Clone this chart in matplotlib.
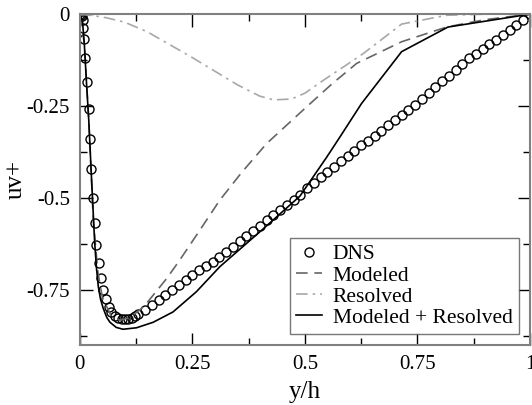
import matplotlib
matplotlib.use("Agg")
import matplotlib.pyplot as plt
from matplotlib.ticker import MultipleLocator, FixedLocator

plt.rcParams['font.family'] = ['Liberation Serif', 'DejaVu Serif']

# DNS reference profile
dns_y = [0.0, 0.002, 0.004, 0.006, 0.008, 0.0096, 0.0118, 0.0149, 0.020, 0.022,
         0.025, 0.029, 0.033, 0.037, 0.042, 0.047, 0.052, 0.058, 0.064, 0.070,
         0.078, 0.085, 0.093, 0.100, 0.107, 0.115, 0.122,
         0.130, 0.145, 0.160, 0.175, 0.190, 0.205, 0.220, 0.235, 0.250, 0.265,
         0.280, 0.295, 0.310, 0.325, 0.340, 0.355, 0.370, 0.385, 0.400, 0.415,
         0.430, 0.445, 0.460, 0.475, 0.490, 0.505, 0.520, 0.535, 0.550, 0.565,
         0.580, 0.595, 0.610, 0.625, 0.640, 0.655, 0.670, 0.685, 0.700, 0.715,
         0.730, 0.745, 0.760, 0.775, 0.790, 0.805, 0.820, 0.835, 0.850, 0.865,
         0.880, 0.895, 0.910, 0.925, 0.940, 0.955, 0.970, 0.985, 1.000]
dns_uv = [0.0, -0.001, -0.004, -0.016, -0.038, -0.068, -0.119, -0.185, -0.258, -0.340,
          -0.421, -0.500, -0.567, -0.627, -0.677, -0.718, -0.750, -0.775, -0.796, -0.809,
          -0.821, -0.827, -0.830, -0.830, -0.829, -0.826, -0.822,
          -0.815, -0.804, -0.791, -0.778, -0.764, -0.751, -0.737, -0.723, -0.709, -0.696,
          -0.685, -0.673, -0.660, -0.647, -0.633, -0.618, -0.604, -0.590, -0.575, -0.561,
          -0.546, -0.532, -0.519, -0.505, -0.491, -0.474, -0.458, -0.444, -0.430, -0.415,
          -0.400, -0.386, -0.371, -0.357, -0.344, -0.331, -0.317, -0.302, -0.289, -0.275,
          -0.262, -0.248, -0.232, -0.215, -0.199, -0.183, -0.167, -0.151, -0.135, -0.120,
          -0.107, -0.095, -0.082, -0.069, -0.057, -0.044, -0.030, -0.015, 0.0]

# LES modeled part
mod_y = [0.0, 0.01, 0.02, 0.03, 0.04, 0.05, 0.07, 0.09, 0.11, 0.133, 0.148, 0.193,
         0.222, 0.267, 0.311, 0.36, 0.415, 0.504, 0.56, 0.615, 0.715, 0.815, 0.9, 1.0]
mod_uv = [0.0, -0.08, -0.29, -0.56, -0.70, -0.77, -0.822, -0.833, -0.825, -0.805, -0.787, -0.719,
          -0.669, -0.587, -0.506, -0.43, -0.352, -0.252, -0.19, -0.134, -0.075, -0.035, -0.015, 0.0]

# LES resolved part
res_y = [0.0, 0.03, 0.06, 0.10, 0.15, 0.20, 0.25, 0.30, 0.35, 0.40, 0.43, 0.47, 0.50,
         0.541, 0.59, 0.63, 0.715, 0.815, 0.9, 1.0]
res_uv = [0.0, -0.004, -0.010, -0.022, -0.048, -0.083, -0.118, -0.155, -0.192, -0.223, -0.233,
          -0.231, -0.215, -0.180, -0.140, -0.107, -0.027, -0.003, 0.0, 0.0]

# modeled + resolved
tot_y = [0.0, 0.006, 0.01, 0.015, 0.02, 0.025, 0.029, 0.033, 0.037, 0.041, 0.046, 0.052,
         0.060, 0.067, 0.081, 0.096, 0.126, 0.163, 0.207, 0.259, 0.311, 0.40, 0.489,
         0.548, 0.578, 0.626, 0.715, 0.818, 1.0]
tot_uv = [0.0, -0.02, -0.08, -0.19, -0.29, -0.42, -0.52, -0.62, -0.69, -0.74, -0.775, -0.80,
          -0.825, -0.838, -0.852, -0.857, -0.853, -0.838, -0.810, -0.755, -0.687, -0.592, -0.495,
          -0.39, -0.334, -0.243, -0.102, -0.035, 0.0]

xticks = [0, 0.25, 0.5, 0.75, 1]
xlabels = ['0', '0.25', '0.5', '0.75', '1']
yticks = [0, -0.25, -0.5, -0.75]
ylabels = ['0', '-0.25', '-0.5', '-0.75']

fig = plt.figure(figsize=(5.32, 4.05), dpi=100)
ax = fig.add_axes([0.150, 0.148, 0.846, 0.817])

ax.plot(dns_y, dns_uv, 'o', mfc='none', mec='black', ms=6.5, mew=1.0, label='DNS')
ax.plot(mod_y, mod_uv, color='#666666', ls=(0, (7, 4)), lw=1.2, label='Modeled')
ax.plot(res_y, res_uv, color='#a8a8a8', ls=(0, (7, 3, 1.5, 3)), lw=1.2, label='Resolved')
ax.plot(tot_y, tot_uv, color='black', lw=1.2, label='Modeled + Resolved')

ax.set_xlim(0, 1)
ax.set_ylim(-0.9, 0)
ax.set_xticks(xticks)
ax.set_xticklabels(xlabels)
ax.set_yticks(yticks)
ax.set_yticklabels(ylabels)
ax.xaxis.set_minor_locator(MultipleLocator(0.125))
ax.yaxis.set_minor_locator(FixedLocator([-0.125, -0.375, -0.625, -0.875]))
ax.tick_params(which='both', direction='in', top=True, right=True, labelsize=15, pad=7)
ax.tick_params(which='major', length=9, width=1)
ax.tick_params(which='minor', length=5, width=1)
for s in ax.spines.values():
    s.set_color('#808080')
    s.set_linewidth(1.5)

ax.set_xlabel('y/h', fontsize=18, labelpad=5)
ax.set_ylabel('uv+', fontsize=18, labelpad=0)

leg = ax.legend(loc='lower right', fontsize=15.5, frameon=True, fancybox=False,
                edgecolor='#555555', handlelength=1.2, handletextpad=0.5,
                borderpad=0.3, labelspacing=0.05, borderaxespad=0.5)
leg.get_frame().set_linewidth(1.0)

fig.savefig('out.png', dpi=100)
